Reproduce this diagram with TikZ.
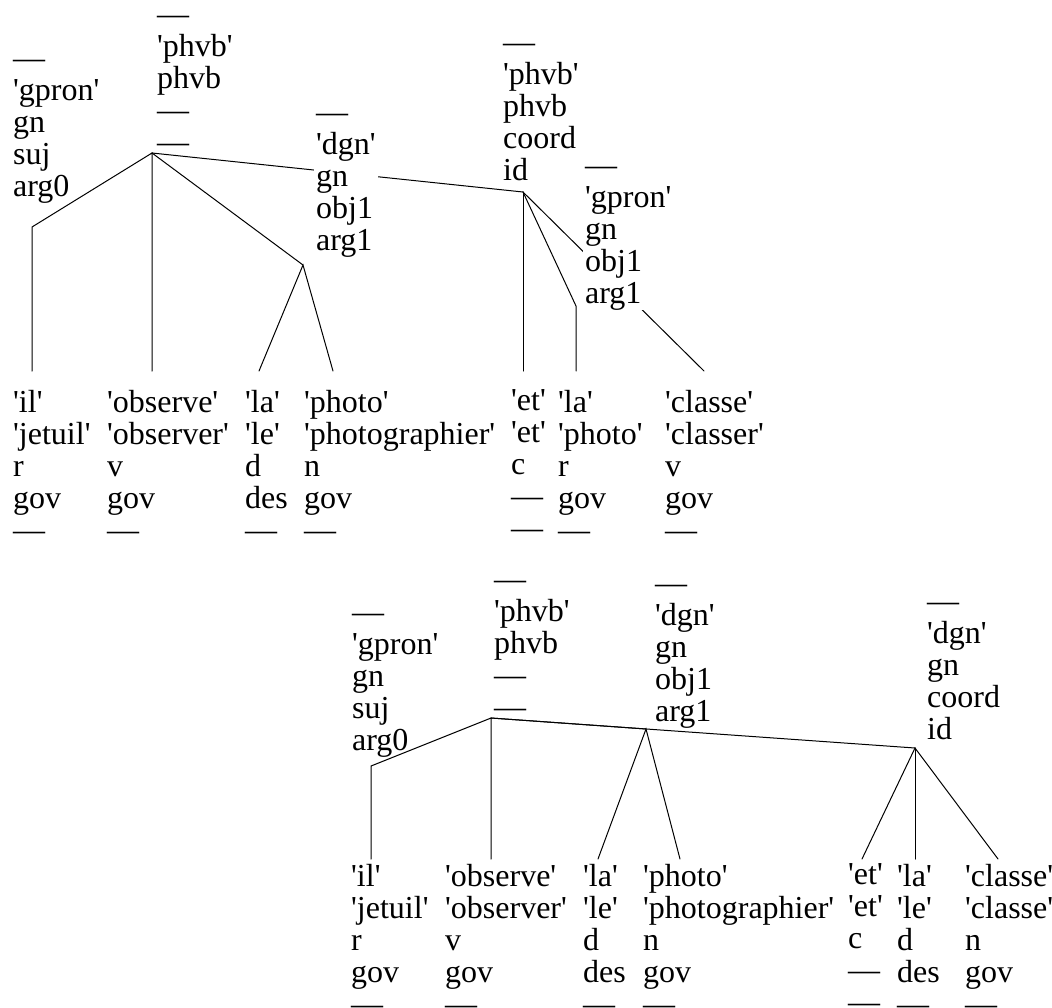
\documentclass[tikz,border=0pt]{standalone}
\usepackage{fontspec}
\setmainfont{Liberation Serif}
\newcommand{\lit}[1]{\textquotesingle#1\textquotesingle}
\newcommand{\emp}{\rule{0pt}{24.4pt}—}
\tikzset{
  lbl/.style={anchor=north west,align=left,inner xsep=2pt,inner ysep=0pt,
    font=\fontsize{32}{32}\selectfont,xshift=-2pt,yshift=22.4pt},
  mask/.style={lbl,fill=white},
  branch/.style={line width=1pt,line cap=round}
}
\begin{document}
\begin{tikzpicture}[x=1pt,y=-1pt]
\useasboundingbox (0,0) rectangle (1052,1007);
% junctions, upper tree
\coordinate (tRoot)   at (152,153);
\coordinate (tSuj)    at ( 32,227);
\coordinate (tObj)    at (303,265);
\coordinate (tCoord)  at (523,192);
\coordinate (tPron)   at (576,306);
\coordinate (tIl)     at ( 32,371);
\coordinate (tObs)    at (152,371);
\coordinate (tLa)     at (259,371);
\coordinate (tPhoto)  at (333,371);
\coordinate (tEt)     at (523,371);
\coordinate (tLa2)    at (576,371);
\coordinate (tClasse) at (704,371);
% junctions, lower tree
\coordinate (bRoot)   at (491,718);
\coordinate (bSuj)    at (371,766);
\coordinate (bObj)    at (646,729);
\coordinate (bCoord)  at (915,748);
\coordinate (bIl)     at (371,859);
\coordinate (bObs)    at (491,859);
\coordinate (bLa)     at (598,859);
\coordinate (bPhoto)  at (680,859);
\coordinate (bEt)     at (862,859);
\coordinate (bLa2)    at (915,859);
\coordinate (bClasse) at (998,859);
% branches, upper tree
\draw[branch] (tIl) -- (tSuj) -- (tRoot) -- (tObs);
\draw[branch] (tRoot) -- (tObj);
\draw[branch] (tRoot) -- (tCoord);
\draw[branch] (tLa) -- (tObj) -- (tPhoto);
\draw[branch] (tCoord) -- (tEt);
\draw[branch] (tCoord) -- (tPron) -- (tLa2);
\draw[branch] (tCoord) -- (tClasse);
% branches, lower tree
\draw[branch] (bIl) -- (bSuj) -- (bRoot) -- (bObs);
\draw[branch] (bRoot) -- (bObj);
\draw[branch] (bRoot) -- (bCoord);
\draw[branch] (bLa) -- (bObj) -- (bPhoto);
\draw[branch] (bEt) -- (bCoord) -- (bClasse);
\draw[branch] (bCoord) -- (bLa2);
% labels, upper tree
\node[lbl]  (tRootL)   at (157, 22) {\emp\\\lit{phvb}\\phvb\\\emp\\\emp};
\node[lbl]  (tSujL)    at ( 13, 66) {\emp\\\lit{gpron}\\gn\\suj\\arg0};
\node[mask] (tObjL)    at (316,120) {\emp\\\lit{dgn}\\gn\\obj1\\arg1};
\node[lbl]  (tCoordL)  at (503, 50) {\emp\\\lit{phvb}\\phvb\\coord\\id};
\node[mask] (tPronL)   at (585,173) {\emp\\\lit{gpron}\\gn\\obj1\\arg1};
\node[lbl]  (tIlL)     at ( 13,412) {\lit{il}\\\lit{jetuil}\\r\\gov\\\emp};
\node[lbl]  (tObsL)    at (107,412) {\lit{observe}\\\lit{observer}\\v\\gov\\\emp};
\node[lbl]  (tLaL)     at (245,412) {\lit{la}\\\lit{le}\\d\\des\\\emp};
\node[lbl]  (tPhotoL)  at (304,412) {\lit{photo}\\\lit{photographier}\\n\\gov\\\emp};
\node[lbl]  (tEtL)     at (511,412) {\lit{et}\\\lit{et}\\c\\\emp\\\emp};
\node[lbl]  (tLa2L)    at (558,412) {\lit{la}\\\lit{photo}\\r\\gov\\\emp};
\node[lbl]  (tClasseL) at (665,412) {\lit{classe}\\\lit{classer}\\v\\gov\\\emp};
% labels, lower tree
\node[lbl]  (bRootL)   at (494,587) {\emp\\\lit{phvb}\\phvb\\\emp\\\emp};
\node[lbl]  (bSujL)    at (352,620) {\emp\\\lit{gpron}\\gn\\suj\\arg0};
\node[lbl]  (bObjL)    at (655,591) {\emp\\\lit{dgn}\\gn\\obj1\\arg1};
\node[lbl]  (bCoordL)  at (927,609) {\emp\\\lit{dgn}\\gn\\coord\\id};
\node[lbl]  (bIlL)     at (351,886) {\lit{il}\\\lit{jetuil}\\r\\gov\\\emp};
\node[lbl]  (bObsL)    at (445,886) {\lit{observe}\\\lit{observer}\\v\\gov\\\emp};
\node[lbl]  (bLaL)     at (583,886) {\lit{la}\\\lit{le}\\d\\des\\\emp};
\node[lbl]  (bPhotoL)  at (643,886) {\lit{photo}\\\lit{photographier}\\n\\gov\\\emp};
\node[lbl]  (bEtL)     at (848,886) {\lit{et}\\\lit{et}\\c\\\emp\\\emp};
\node[lbl]  (bLa2L)    at (897,886) {\lit{la}\\\lit{le}\\d\\des\\\emp};
\node[lbl]  (bClasseL) at (965,886) {\lit{classe}\\\lit{classe}\\n\\gov\\\emp};
\end{tikzpicture}
\end{document}
